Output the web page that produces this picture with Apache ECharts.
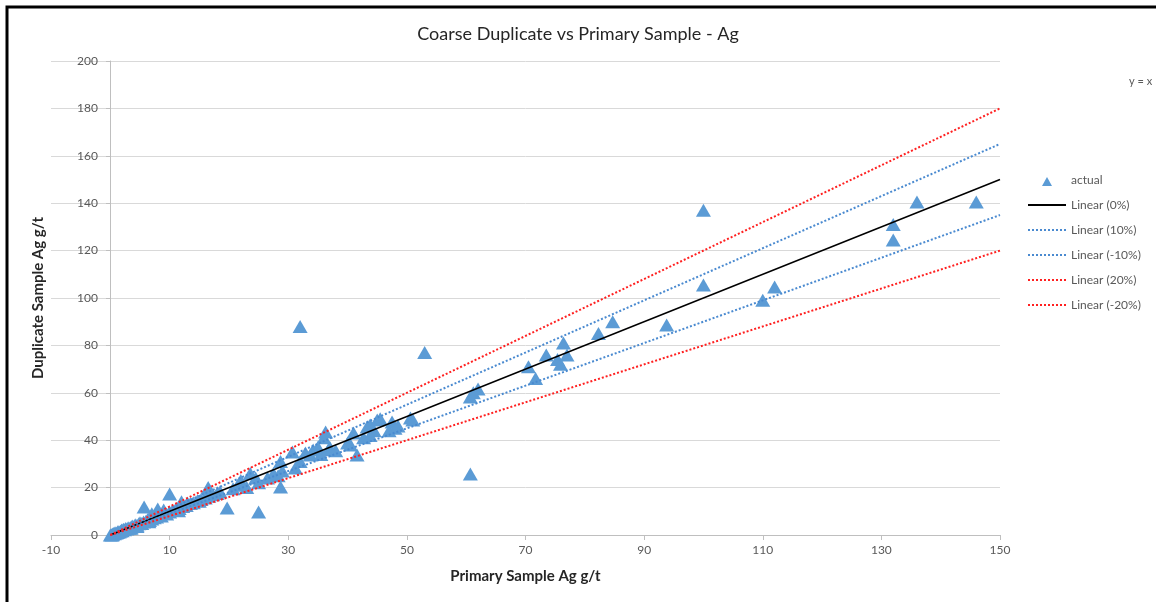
<!DOCTYPE html>
<html>
<head>
<meta charset="utf-8">
<script src="https://cdn.jsdelivr.net/npm/echarts@6/dist/echarts.min.js"></script>
<style>
  html, body { margin: 0; padding: 0; background: #fff; }
  #chart { width: 1156px; height: 602px; }
</style>
</head>
<body>
<div id="chart"></div>
<script>
// primary vs duplicate Ag values (g/t)
var primaryAg = [
  0, 0.3, 0.2, 0.4, 0.5, 0.7, 0.8, 1, 1.2, 1.3, 1.5, 1.7, 1.9, 2, 2.2, 2.4, 2.6, 2.8, 3, 3.2,
  3.5, 3.7, 4, 4.2, 4.5, 4.8, 5, 5.3, 5.6, 6, 6.3, 6.6, 7, 7.4, 7.8, 8.2, 8.6, 9, 9.5, 10,
  10.5, 11, 11.6, 12.2, 12.8, 13.5, 14, 14.7, 15.3, 16, 16.6, 17.3, 18, 18.5,
  5.7, 8, 10, 16.5, 19.7, 16.8, 12, 9, 7, 13, 3.5, 4.5, 6.5, 11.5, 15,
  20.7, 21.5, 22, 23.6, 23, 24.5, 25, 25, 26.5, 27.5, 28.3, 28.7, 28.7, 29, 30.7, 31.2, 32, 32,
  32.9, 33.7, 34.2, 35, 35.5, 36, 36.3, 36.8, 37, 38, 40, 40.5, 41, 41.6, 42.7, 43.3, 43.8, 43.8,
  44.5, 45, 45.5, 47, 47.5, 48, 48.5, 50.6, 51,
  53, 60.7, 61.2, 62, 60.7, 70.5, 71.7, 73.5, 75.4, 75.9, 76.4, 77, 82.3, 84.7, 93.8,
  100, 100, 110, 112, 132, 132, 136, 146
];
var duplicateAg = [
  0, 0, 0.1, 0.3, 0.6, 0.5, 0.9, 0.8, 1.1, 1.5, 1.3, 1.6, 2.1, 1.8, 2.4, 2.2, 2.7, 2.5, 3.1, 2.9,
  3.4, 3.8, 3.6, 4.3, 4.1, 4.7, 5.2, 4.9, 5.5, 5.8, 6.5, 6.1, 6.8, 7.3, 7.6, 8.4, 8.0, 9.2, 8.9, 9.7,
  10.3, 10.8, 11.2, 12.0, 12.5, 13.3, 13.6, 14.5, 15.0, 15.6, 16.3, 17.0, 17.5, 18.2,
  11.8, 11, 17.3, 20, 11.4, 18.5, 14, 10.5, 9, 13.5, 2.8, 3.6, 5.6, 10.2, 14.2,
  19.5, 21, 23, 26, 20, 24, 22, 9.7, 24, 26, 25, 31, 20.3, 27, 35, 28.3, 31, 88,
  34.6, 33.8, 35.9, 37, 34, 41, 43.5, 36, 37, 35.5, 38.8, 38, 43, 33.8, 41, 45.6, 42, 46.4,
  44, 48.5, 49, 44, 47.7, 45, 46, 49.4, 48.5,
  77, 58.2, 60, 61.6, 25.7, 71, 66, 76, 74, 72, 81, 76, 85, 90, 88.6,
  137, 105.5, 99, 104.6, 131, 124.5, 140.5, 140.5
];

// trend line end points
var lineX = [0, 150];
var line0 = [0, 150];
var linePlus10 = [0, 165];
var lineMinus10 = [0, 135];
var linePlus20 = [0, 180];
var lineMinus20 = [0, 120];

function pairs(xs, ys) {
  var out = [];
  for (var i = 0; i < xs.length; i++) out.push([xs[i], ys[i]]);
  return out;
}

var chart = echarts.init(document.getElementById('chart'), null, { renderer: 'canvas' });
var font = 'Lato, "Open Sans", sans-serif';

function trend(name, ys, color, type, width) {
  return {
    name: name,
    type: 'line',
    data: pairs(lineX, ys),
    symbol: 'none',
    showSymbol: false,
    silent: true,
    z: 3,
    itemStyle: { color: color, opacity: 0 },
    lineStyle: { color: color, type: type, width: width }
  };
}

// small triangle for the legend, padded out to the 38x12 icon box
var legendTriangle = 'path://M0,0M38,12M14,12L19,3L24,12Z';

chart.setOption({
  animation: false,
  textStyle: { fontFamily: font },
  title: {
    text: 'Coarse Duplicate vs Primary Sample - Ag',
    left: 'center',
    top: 20,
    textStyle: { fontSize: 18, fontWeight: 'normal', color: '#262626', fontFamily: font }
  },
  graphic: [
    {
      type: 'polyline',
      shape: { points: [[7, 602], [7, 7], [1156, 7]] },
      style: { stroke: '#000', lineWidth: 3, fill: null }
    },
    {
      type: 'text',
      left: 1129,
      top: 76,
      style: { text: 'y = x', fill: '#595959', fontSize: 11, fontFamily: font }
    }
  ],
  legend: {
    orient: 'vertical',
    left: 1022,
    top: 169,
    itemWidth: 38,
    itemHeight: 12,
    itemGap: 13,
    textStyle: { fontSize: 12, color: '#595959', fontFamily: font },
    data: [
      { name: 'actual', icon: legendTriangle },
      'Linear (0%)', 'Linear (10%)', 'Linear (-10%)', 'Linear (20%)', 'Linear (-20%)'
    ]
  },
  grid: { left: 51, right: 156, top: 61, bottom: 67, containLabel: false, outerBoundsMode: 'none' },
  xAxis: {
    type: 'value',
    min: -10,
    max: 150,
    interval: 20,
    name: 'Primary Sample Ag g/t',
    nameLocation: 'middle',
    nameGap: 34,
    nameTextStyle: { fontSize: 15, fontWeight: 'bold', color: '#262626', fontFamily: font },
    axisLine: { lineStyle: { color: '#bfbfbf' } },
    axisTick: { show: true, length: 5, lineStyle: { color: '#bfbfbf' } },
    axisLabel: { fontSize: 12, color: '#595959', margin: 9 },
    splitLine: { show: false }
  },
  yAxis: {
    type: 'value',
    min: 0,
    max: 200,
    interval: 20,
    // y axis sits at x = 0 (10 units in from the left edge of the plot)
    offset: -59,
    name: 'Duplicate Sample Ag g/t',
    nameLocation: 'middle',
    nameGap: 64,
    nameTextStyle: { fontSize: 15, fontWeight: 'bold', color: '#262626', fontFamily: font },
    axisLine: { show: true, onZero: false, lineStyle: { color: '#bfbfbf' } },
    axisTick: { show: true, length: 4, lineStyle: { color: '#bfbfbf' } },
    axisLabel: { fontSize: 12, color: '#595959', margin: 12 },
    splitLine: { show: true, lineStyle: { color: '#d9d9d9', width: 1 } }
  },
  series: [
    {
      name: 'actual',
      type: 'scatter',
      symbol: 'triangle',
      symbolSize: [15, 13],
      z: 2,
      itemStyle: { color: '#5b9bd5', opacity: 1 },
      data: pairs(primaryAg, duplicateAg)
    },
    trend('Linear (0%)', line0, '#000000', 'solid', 1.5),
    trend('Linear (10%)', linePlus10, '#4a8ad0', 'dotted', 2),
    trend('Linear (-10%)', lineMinus10, '#4a8ad0', 'dotted', 2),
    trend('Linear (20%)', linePlus20, '#ff2020', 'dotted', 2),
    trend('Linear (-20%)', lineMinus20, '#ff2020', 'dotted', 2)
  ]
});
</script>
</body>
</html>
